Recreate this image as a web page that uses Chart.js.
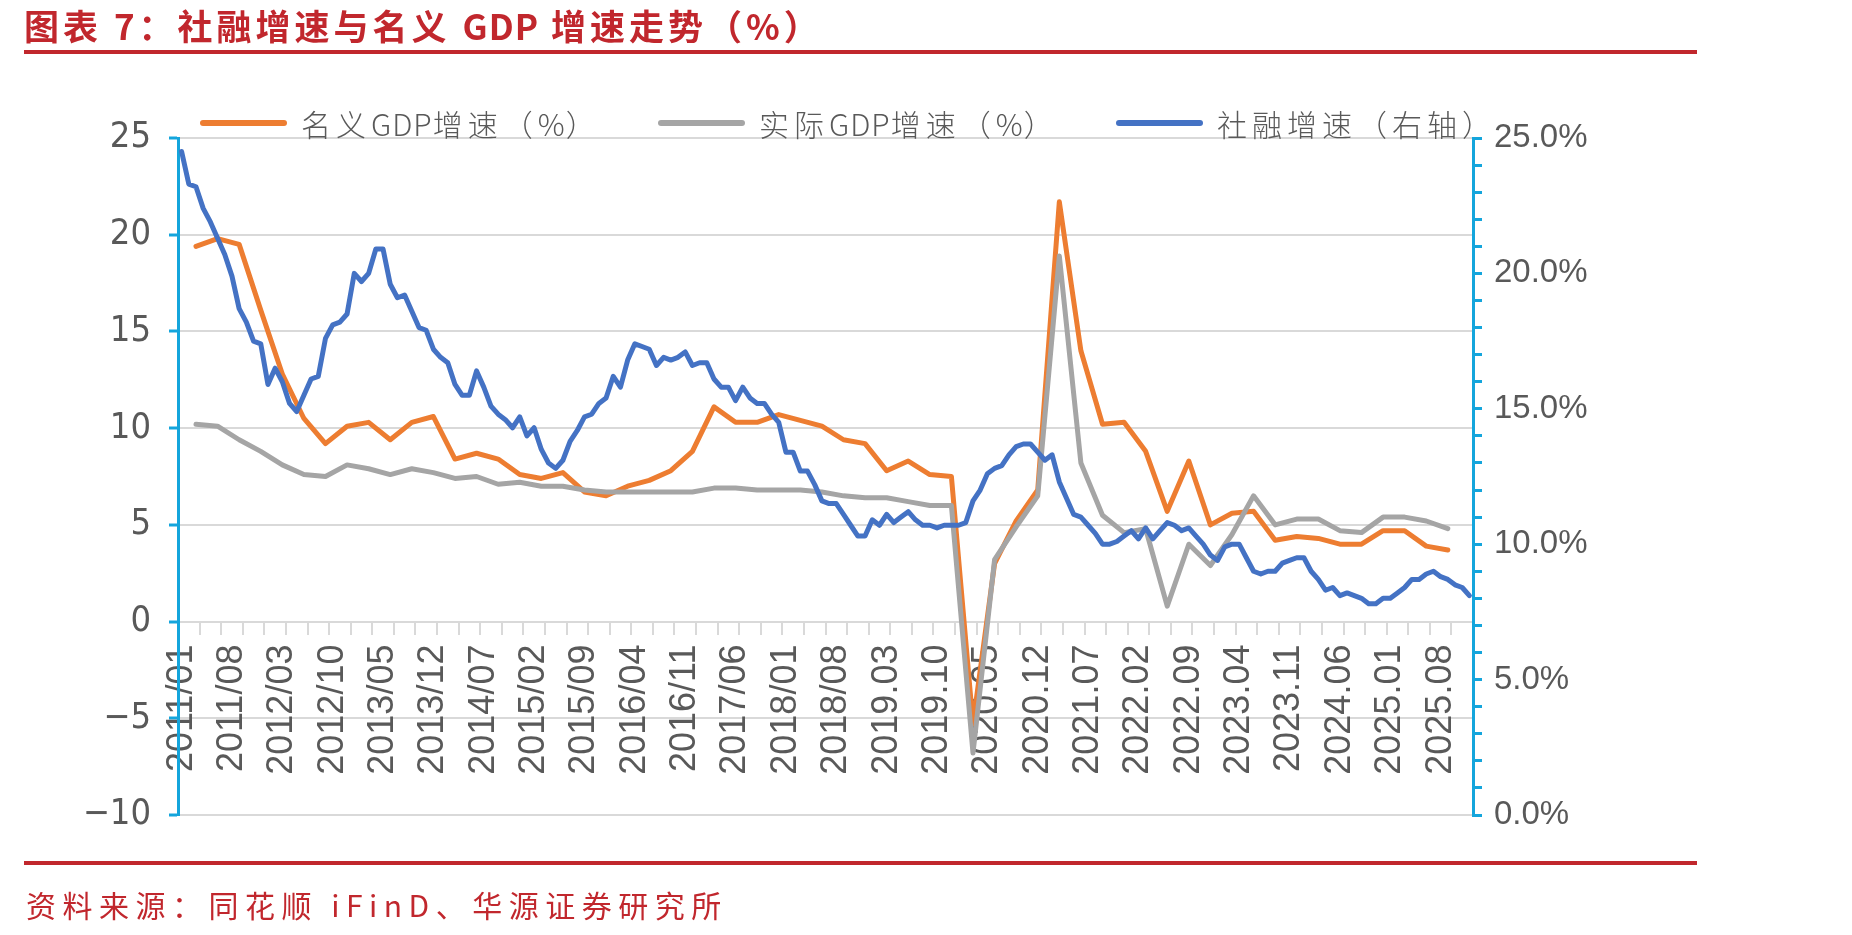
<!DOCTYPE html>
<html lang="zh-CN">
<head>
<meta charset="utf-8">
<title>社融增速与名义GDP增速走势</title>
<script src="https://cdn.jsdelivr.net/npm/chart.js@4.4.1/dist/chart.umd.min.js"></script>
<style>
  html, body { margin: 0; padding: 0; background: #fff; }
  #page { position: relative; width: 1852px; height: 935px; overflow: hidden; }
  #grafico { position: absolute; left: 0; top: 0; }
  .titulo { position: absolute; left: 24px; top: 5px; font: 700 35px "Noto Sans CJK SC", sans-serif; line-height: 40px; color: #c1272d; letter-spacing: 4px; white-space: nowrap; }
  .titulo .lat { letter-spacing: 1px; }
  .regla { position: absolute; left: 24px; width: 1673px; height: 4px; background: #c1272d; }
  .fuente { position: absolute; left: 26px; top: 885px; font: 400 30px "Noto Sans CJK SC", sans-serif; line-height: 38px; color: #c1272d; letter-spacing: 6.5px; white-space: nowrap; }
  #leyenda { position: absolute; left: 200px; top: 104px; display: flex; }
  .item { width: 458px; height: 38px; display: flex; align-items: center; }
  .linea { width: 87px; height: 6px; border-radius: 3px; margin-right: 14px; }
  .texto { font: 300 30px "Noto Sans CJK SC", sans-serif; color: #595959; white-space: nowrap; letter-spacing: 5px; }
  .texto .lat { letter-spacing: 1px; }
</style>
</head>
<body>
<div id="page">
  <canvas id="grafico" width="1852" height="935"></canvas>
  <div class="titulo">图表 7：社融增速与名义 <span class="lat">GDP</span> 增速走势（%）</div>
  <div class="regla" style="top:50px"></div>
  <div id="leyenda"></div>
  <div class="regla" style="top:861px"></div>
  <div class="fuente">资料来源：同花顺 iFinD、华源证券研究所</div>
</div>
<script>
// meses 2011/01 - 2025/12
const meses = [];
for (let i = 0; i < 180; i++) {
  const anio = 2011 + Math.floor(i / 12);
  const mes = String(i % 12 + 1).padStart(2, '0');
  meses.push(anio < 2019 ? `${anio}/${mes}` : `${anio}.${mes}`);
}

// trimestral, 2011Q1 - 2025Q3
const pibNominal = [
  19.4, 19.8, 19.5, 16.1,
  12.8, 10.5, 9.2, 10.1,
  10.3, 9.4, 10.3, 10.6,
  8.4, 8.7, 8.4, 7.6,
  7.4, 7.7, 6.7, 6.5,
  7.0, 7.3, 7.8, 8.8,
  11.1, 10.3, 10.3, 10.7,
  10.4, 10.1, 9.4, 9.2,
  7.8, 8.3, 7.6, 7.5,
  -5.3, 3.0, 5.2, 6.8,
  21.7, 14.0, 10.2, 10.3,
  8.8, 5.7, 8.3, 5.0,
  5.6, 5.7, 4.2, 4.4,
  4.3, 4.0, 4.0, 4.7,
  4.7, 3.9, 3.7
];
const pibReal = [
  10.2, 10.1, 9.4, 8.8,
  8.1, 7.6, 7.5, 8.1,
  7.9, 7.6, 7.9, 7.7,
  7.4, 7.5, 7.1, 7.2,
  7.0, 7.0, 6.8, 6.7,
  6.7, 6.7, 6.7, 6.7,
  6.9, 6.9, 6.8, 6.8,
  6.8, 6.7, 6.5, 6.4,
  6.4, 6.2, 6.0, 6.0,
  -6.8, 3.2, 4.9, 6.5,
  18.9, 8.2, 5.5, 4.6,
  4.8, 0.8, 4.0, 2.9,
  4.5, 6.5, 5.0, 5.3,
  5.3, 4.7, 4.6, 5.4,
  5.4, 5.2, 4.8
];
// mensual, 2011/01 - 2025/12 (eje derecho)
const sheRong = [
  24.5, 23.3, 23.2, 22.4, 21.9, 21.3, 20.7, 19.9, 18.7, 18.2, 17.5, 17.4,
  15.9, 16.5, 16.0, 15.2, 14.9, 15.5, 16.1, 16.2, 17.6, 18.1, 18.2, 18.5,
  20.0, 19.7, 20.0, 20.9, 20.9, 19.6, 19.1, 19.2, 18.6, 18.0, 17.9, 17.2,
  16.9, 16.7, 15.9, 15.5, 15.5, 16.4, 15.8, 15.1, 14.8, 14.6, 14.3, 14.7,
  14.0, 14.3, 13.5, 13.0, 12.8, 13.1, 13.8, 14.2, 14.7, 14.8, 15.2, 15.4,
  16.2, 15.8, 16.8, 17.4, 17.3, 17.2, 16.6, 16.9, 16.8, 16.9, 17.1, 16.6,
  16.7, 16.7, 16.1, 15.8, 15.8, 15.3, 15.8, 15.4, 15.2, 15.2, 14.8, 14.5,
  13.4, 13.4, 12.7, 12.7, 12.2, 11.6, 11.5, 11.5, 11.1, 10.7, 10.3, 10.3,
  10.9, 10.7, 11.1, 10.8, 11.0, 11.2, 10.9, 10.7, 10.7, 10.6, 10.7, 10.7,
  10.7, 10.8, 11.6, 12.0, 12.6, 12.8, 12.9, 13.3, 13.6, 13.7, 13.7, 13.4,
  13.1, 13.3, 12.3, 11.7, 11.1, 11.0, 10.7, 10.4, 10.0, 10.0, 10.1, 10.3,
  10.5, 10.2, 10.6, 10.2, 10.5, 10.8, 10.7, 10.5, 10.6, 10.3, 10.0, 9.6,
  9.4, 9.9, 10.0, 10.0, 9.5, 9.0, 8.9, 9.0, 9.0, 9.3, 9.4, 9.5,
  9.5, 9.0, 8.7, 8.3, 8.4, 8.1, 8.2, 8.1, 8.0, 7.8, 7.8, 8.0,
  8.0, 8.2, 8.4, 8.7, 8.7, 8.9, 9.0, 8.8, 8.7, 8.5, 8.4, 8.1
];
const ticksIzq = [-10, -5, 0, 5, 10, 15, 20, 25];
const ticksDer = [0, 5, 10, 15, 20, 25];

// trimestre -> mes final del trimestre (03, 06, 09, 12)
function aMensual(serie) {
  return meses.map((_, i) => (i % 3 === 2 && (i - 2) / 3 < serie.length) ? serie[(i - 2) / 3] : null);
}

const gris = '#d9d9d9';
const azulEje = '#14a5dc';
const textoEje = '#595959';

const ctx = document.getElementById('grafico').getContext('2d');
const grafico = new Chart(ctx, {
  type: 'line',
  data: {
    labels: meses,
    datasets: [
      { label: '名义GDP增速（%）', data: aMensual(pibNominal), borderColor: '#ed7d31', backgroundColor: '#ed7d31', yAxisID: 'y', order: 3, spanGaps: true },
      { label: '实际GDP增速（%）', data: aMensual(pibReal), borderColor: '#a5a5a5', backgroundColor: '#a5a5a5', yAxisID: 'y', order: 2, spanGaps: true },
      { label: '社融增速（右轴）', data: sheRong, borderColor: '#4472c4', backgroundColor: '#4472c4', yAxisID: 'y1', order: 1 }
    ]
  },
  options: {
    responsive: false,
    animation: false,
    layout: { padding: { top: 138, bottom: 120, left: 0, right: 0 } },
    elements: {
      point: { radius: 0, hoverRadius: 0 },
      line: { borderWidth: 5, tension: 0, borderJoinStyle: 'round', borderCapStyle: 'round' }
    },
    plugins: { legend: { display: false }, title: { display: false }, tooltip: { enabled: false } },
    scales: {
      x: {
        type: 'category',
        offset: true,
        position: { y: 0 },
        ticks: {
          autoSkip: false, minRotation: 90, maxRotation: 90, padding: 10,
          color: textoEje, font: { family: '"Liberation Sans", Arial, sans-serif', size: 36 },
          callback: (v, i) => i % 7 === 0 ? meses[i] : ''
        },
        grid: {
          offset: true, drawOnChartArea: false, tickLength: 13, lineWidth: 2,
          color: c => c.index % 3 === 0 ? gris : 'rgba(0,0,0,0)'
        },
        border: { display: false }
      },
      y: {
        position: 'left', min: ticksIzq[0], max: ticksIzq[ticksIzq.length - 1],
        afterBuildTicks: s => { s.ticks = ticksIzq.map(v => ({ value: v })); },
        ticks: {
          padding: 18, color: textoEje,
          font: { family: '"Liberation Sans Narrow", "DejaVu Sans Condensed", sans-serif', size: 36 },
          callback: v => String(v).replace('-', '\u2212')
        },
        grid: { color: gris, lineWidth: 2, tickColor: azulEje, tickWidth: 3, tickLength: 9 },
        border: { color: azulEje, width: 3 },
        afterFit: s => { s.width = 178; }
      },
      y1: {
        position: 'right', min: ticksDer[0], max: ticksDer[ticksDer.length - 1],
        ticks: {
          stepSize: 1, autoSkip: false, padding: 12, color: textoEje,
          font: { family: '"Liberation Sans", Arial, sans-serif', size: 33 },
          callback: v => ticksDer.includes(v) ? v.toFixed(1) + '%' : ''
        },
        grid: { drawOnChartArea: false, color: azulEje, lineWidth: 3, tickLength: 9 },
        border: { color: azulEje, width: 3 },
        afterFit: s => { s.width = 379; }
      }
    }
  }
});

// leyenda en HTML, en el orden de las series
const leyenda = document.getElementById('leyenda');
grafico.data.datasets.forEach(ds => {
  const div = document.createElement('div');
  div.className = 'item';
  const texto = ds.label.replace(/([A-Za-z%]+)/g, '<span class="lat">$1</span>');
  div.innerHTML = `<span class="linea" style="background:${ds.borderColor}"></span><span class="texto">${texto}</span>`;
  leyenda.appendChild(div);
});
</script>
</body>
</html>
